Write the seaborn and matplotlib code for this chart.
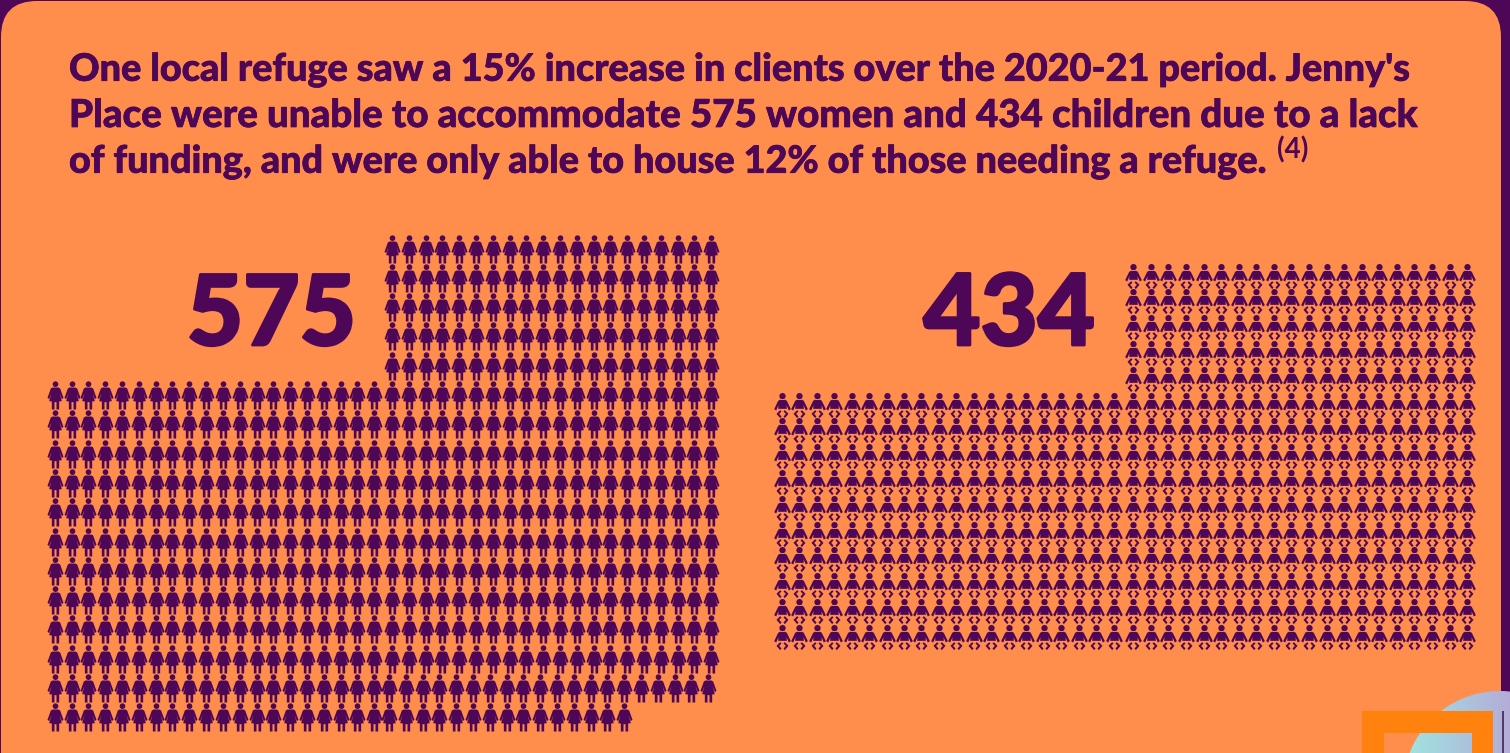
import numpy as np
import pandas as pd
import seaborn as sns
import matplotlib
matplotlib.use("Agg")
import matplotlib.pyplot as plt
import matplotlib.patheffects as pe
from matplotlib.path import Path
from matplotlib.patches import FancyBboxPatch, Circle, Rectangle

# ---------- data ----------
title_lines = ["One local refuge saw a 15% increase in clients over the 2020-21 period. Jenny's",
               "Place were unable to accommodate 575 women and 434 children due to a lack",
               "of funding, and were only able to house 12% of those needing a refuge."]
footnote = "(4)"
women_label = "575"
children_label = "434"
women_row_start = [20]*5 + [0]*12
women_row_count = [20]*5 + [40]*11 + [35]
children_row_start = [20]*5 + [0]*10
children_row_count = [20]*5 + [40]*10

PURPLE = "#4D0756"
ORANGE = "#FF8E4D"
FRAME = "#FF820F"

sns.set_theme(style="white")
plt.rcParams['font.family'] = ['Lato', 'DejaVu Sans']

def poly(points):
    pts = list(points) + [points[0]]
    codes = [Path.MOVETO] + [Path.LINETO]*(len(points)-1) + [Path.CLOSEPOLY]
    return Path(pts, codes)

def mirror(points):
    return [(-x, y) for x, y in points]

def glyph(parts, head, r, cy):
    paths = []
    for p in parts:
        arr = [(x/3.0, -(y-cy)/3.0) for x, y in p]
        paths.append(poly(arr))
    c = Path.circle((0, -(head-cy)/3.0), r/3.0)
    return Path.make_compound_path(c, *paths)

right = [(9,46),(14,49),(24,77),(19,81),(12,62),(19,87),(11,88),(11,112),(3,112),(3,90)]
woman_poly = right + mirror(right[::-1])
woman = glyph([woman_poly], 36, 8.5, 70)

baby_body_r = [(8,44),(13,47),(25,72),(19,76),(12,60),(13,71),(0,71)]
baby_body = baby_body_r + mirror(baby_body_r[:-1][::-1])
leg_l = [(-7,75),(-18,86),(-7,99),(-3,94),(-10,86),(-3,79)]
baby = glyph([baby_body, leg_l, mirror(leg_l)], 33, 9.5, 61)

def extent(path):
    return np.abs(path.vertices).max()

def grid(starts, counts, x_left, dx_left, x_right, dx_right, y0, dy, shift_rows=0, shift=0):
    xs, ys = [], []
    n = len(starts)
    for r, (s, c) in enumerate(zip(starts, counts)):
        for k in range(s, s + c):
            if k < 20:
                x = x_left + k*dx_left
            else:
                x = x_right + (k-20)*dx_right
                if r >= n - shift_rows:
                    x += shift
            xs.append(x)
            ys.append(y0 + r*dy)
    return pd.DataFrame({"x": xs, "y": ys})

fig = plt.figure(figsize=(15.10, 7.53), dpi=100, facecolor=PURPLE)
ax = fig.add_axes([0, 0, 1, 1])

# panel
ax.add_patch(FancyBboxPatch((1+36, 1+36), 1500-72, 800, boxstyle="round,pad=36,rounding_size=36",
                            fc=ORANGE, ec="none", zorder=0))

# decoration
grad = np.linspace(0, 1, 200)[None, :, None]
c1 = np.array([0x9F, 0xE6, 0xE2])/255
c2 = np.array([0xB4, 0xAC, 0xD8])/255
img = c1 + (c2-c1)*grad
im = ax.imshow(img, extent=(1403, 1510, 753, 690), zorder=1, aspect="auto")
circ = Circle((1500, 788), 97, transform=ax.transData, fc="none", ec="none")
ax.add_patch(circ)
im.set_clip_path(circ)
ax.add_patch(Rectangle((1362, 711), 22, 42, fc=FRAME, ec="none", zorder=2))
ax.add_patch(Rectangle((1384, 711), 88, 22, fc=FRAME, ec="none", zorder=2))
ax.add_patch(Rectangle((1472, 711), 21, 42, fc=FRAME, ec="none", zorder=2))
ax.add_patch(Rectangle((1502, 711), 2, 42, fc="#4F3B6E", ec="none", zorder=4))

# pictograms
df_w = grid(women_row_start, women_row_count, 54.7, 16.82, 392.0, 16.8, 248.5, 29.3, shift_rows=2, shift=-3)
df_c = grid(children_row_start, children_row_count, 781.7, 17.47, 1133.3, 17.57, 275.5, 25.8)

px2pt = 72/100
s_w = (2*extent(woman)*px2pt)**2
s_c = (2*extent(baby)*px2pt)**2
sns.scatterplot(data=df_w, x="x", y="y", marker=woman, s=s_w, color=PURPLE, linewidth=0, ax=ax, zorder=5, legend=False)
sns.scatterplot(data=df_c, x="x", y="y", marker=baby, s=s_c, color=PURPLE, linewidth=0, ax=ax, zorder=5, legend=False)
ax.set_xlim(0, 1510)
ax.set_ylim(753, 0)
ax.axis("off")

# text
thin = [pe.withStroke(linewidth=0.5, foreground=PURPLE)]
heavy = [pe.withStroke(linewidth=2.0, foreground=PURPLE)]
for y, line, fs in zip([70, 116, 162], title_lines, [27.2, 27.7, 27.2]):
    ax.text(69, y, line, fontsize=fs, fontweight="black", color=PURPLE, ha="left", va="center",
            zorder=6, path_effects=thin)
ax.text(1277, 150, footnote, fontsize=20, fontweight="bold", color=PURPLE, ha="left", va="center", zorder=6)
ax.text(356, 345, women_label, fontsize=70, fontweight="black", color=PURPLE, ha="right", va="baseline",
        zorder=6, path_effects=heavy)
ax.text(1095, 345, children_label, fontsize=71, fontweight="black", color=PURPLE, ha="right", va="baseline",
        zorder=6, path_effects=heavy)

fig.savefig("out.png", dpi=100, facecolor=PURPLE)
